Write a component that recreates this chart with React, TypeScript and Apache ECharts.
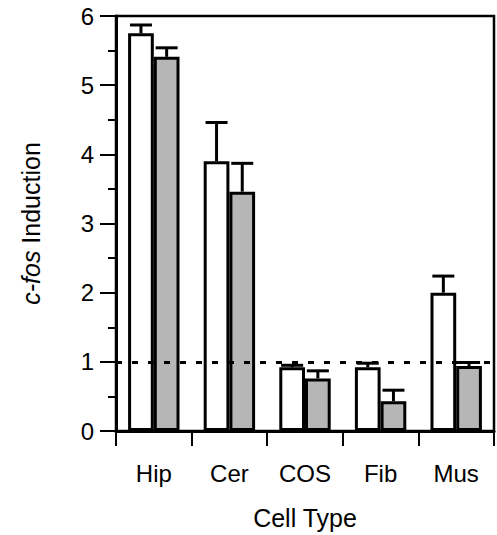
import React, { useEffect, useRef } from "react";
import * as echarts from "echarts";

const categories = ["Hip", "Cer", "COS", "Fib", "Mus"];
const openValues = [5.75, 3.9, 0.92, 0.92, 2.0];
const openErrors = [0.12, 0.56, 0.03, 0.06, 0.24];
const grayValues = [5.41, 3.46, 0.76, 0.43, 0.94];
const grayErrors = [0.13, 0.41, 0.11, 0.16, 0.05];
const yTicks = [0, 1, 2, 3, 4, 5, 6];

const FONT = "Liberation Sans";

function errorSeries(values: number[], errors: number[], side: number) {
  return {
    type: "custom",
    z: 5,
    silent: true,
    data: values.map((v, i) => [i, v, v + errors[i]]),
    renderItem: (params: any, api: any) => {
      const band = api.size([1, 0])[0];
      const off = side * band * 0.17;
      const p0 = api.coord([api.value(0), api.value(1)]);
      const p1 = api.coord([api.value(0), api.value(2)]);
      const x = p0[0] + off;
      const half = 11;
      const style = { stroke: "#000", lineWidth: 3 };
      return {
        type: "group",
        children: [
          { type: "line", shape: { x1: x, y1: p0[1], x2: x, y2: p1[1] }, style },
          { type: "line", shape: { x1: x - half, y1: p1[1], x2: x + half, y2: p1[1] }, style },
        ],
      };
    },
  };
}

export default function App() {
  const ref = useRef<HTMLDivElement>(null);
  useEffect(() => {
    if (!ref.current) return;
    const chart = echarts.init(ref.current, null, { renderer: "svg" });
    chart.setOption({
      animation: false,
      backgroundColor: "#fff",
      textStyle: { fontFamily: FONT },
      grid: {
        left: 116,
        right: 3,
        top: 16,
        bottom: 103,
        show: true,
        borderColor: "#000",
        borderWidth: 2.5,
        containLabel: false,
      },
      xAxis: {
        type: "category",
        data: categories,
        name: "Cell Type",
        nameLocation: "middle",
        nameGap: 74,
        nameTextStyle: { fontSize: 25, color: "#000", fontFamily: FONT },
        axisLine: { lineStyle: { color: "#000", width: 3 } },
        axisTick: { show: true, length: 15, lineStyle: { color: "#000", width: 2 } },
        axisLabel: { fontSize: 24, color: "#000", margin: 30, fontFamily: FONT },
      },
      yAxis: {
        type: "value",
        min: 0,
        max: 6,
        interval: 1,
        name: "{i|c-fos} Induction",
        nameLocation: "middle",
        nameGap: 73,
        nameTextStyle: {
          fontSize: 25,
          color: "#000",
          fontFamily: FONT,
          rich: { i: { fontStyle: "italic", fontSize: 25, color: "#000", fontFamily: FONT } },
        },
        axisLine: { show: true, lineStyle: { color: "#000", width: 3 } },
        axisTick: { show: true, length: 16, lineStyle: { color: "#000", width: 2 } },
        minorTick: { show: true, splitNumber: 2, length: 8, lineStyle: { color: "#000", width: 2 } },
        splitLine: { show: false },
        axisLabel: {
          fontSize: 24,
          color: "#000",
          margin: 22,
          fontFamily: FONT,
          formatter: (v: number) => (yTicks.includes(v) ? String(v) : ""),
        },
      },
      series: [
        {
          type: "bar",
          data: openValues,
          barWidth: "34%",
          barGap: "0%",
          itemStyle: { color: "#fff", borderColor: "#000", borderWidth: 3 },
          markLine: {
            silent: true,
            symbol: "none",
            label: { show: false },
            lineStyle: { color: "#000", width: 3, type: [6, 10] },
            data: [{ yAxis: 1 }],
          },
        },
        {
          type: "bar",
          data: grayValues,
          barWidth: "34%",
          barGap: "0%",
          itemStyle: { color: "#b6b6b6", borderColor: "#000", borderWidth: 3 },
        },
        errorSeries(openValues, openErrors, -1),
        errorSeries(grayValues, grayErrors, 1),
      ],
    });
    return () => chart.dispose();
  }, []);
  return (
    <div
      ref={ref}
      style={{ position: "absolute", left: 0, top: 0, width: 497, height: 535 }}
    />
  );
}
